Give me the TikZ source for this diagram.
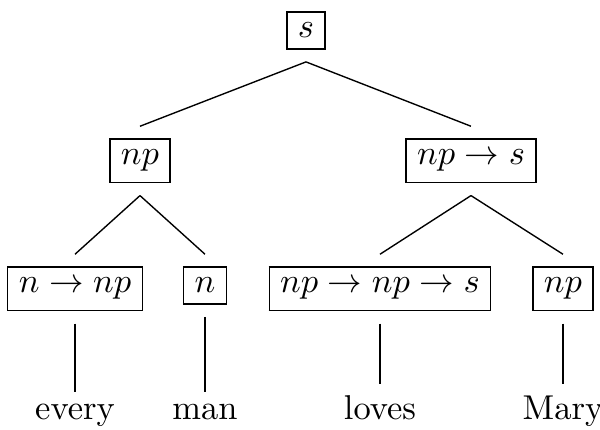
\documentclass[tikz,border=0pt]{standalone}
\usepackage{tikz}
\tikzset{
  catbox/.style={inner sep=0.333em, anchor=base},
  wordnode/.style={inner sep=0.333em, anchor=base},
  treeedge/.style={line width=0.4pt}
}
\newcommand{\catlabel}[1]{\fbox{$#1$}}

\begin{document}
\begin{tikzpicture}[x=0.29pt, y=-0.29pt]
\useasboundingbox (0,0) rectangle (600,430);
% categories
\node[catbox] (s) at (306,38) {\catlabel{s}};
\node[catbox] (subj) at (140,165) {\catlabel{np}};
\node[catbox] (vp) at (471,165) {\catlabel{np \to s}};
\node[catbox] (det) at (75,293) {\catlabel{n \to np}};
\node[catbox] (noun) at (205,293) {\catlabel{n}};
\node[catbox] (verb) at (380,293) {\catlabel{np \to np \to s}};
\node[catbox] (obj) at (563,293) {\catlabel{np}};
% words
\node[wordnode] (every) at (75,420) {every};
\node[wordnode] (man) at (205,420) {man};
\node[wordnode] (loves) at (380,420) {loves};
\node[wordnode] (mary) at (563,420) {Mary};
% edges
\draw[treeedge] (s.south) -- (subj.north);
\draw[treeedge] (s.south) -- (vp.north);
\draw[treeedge] (subj.south) -- (det.north);
\draw[treeedge] (subj.south) -- (noun.north);
\draw[treeedge] (vp.south) -- (verb.north);
\draw[treeedge] (vp.south) -- (obj.north);
\draw[treeedge] (det.south) -- (every.north);
\draw[treeedge] (noun.south) -- (man.north);
\draw[treeedge] (verb.south) -- (loves.north);
\draw[treeedge] (obj.south) -- (mary.north);
\end{tikzpicture}
\end{document}
